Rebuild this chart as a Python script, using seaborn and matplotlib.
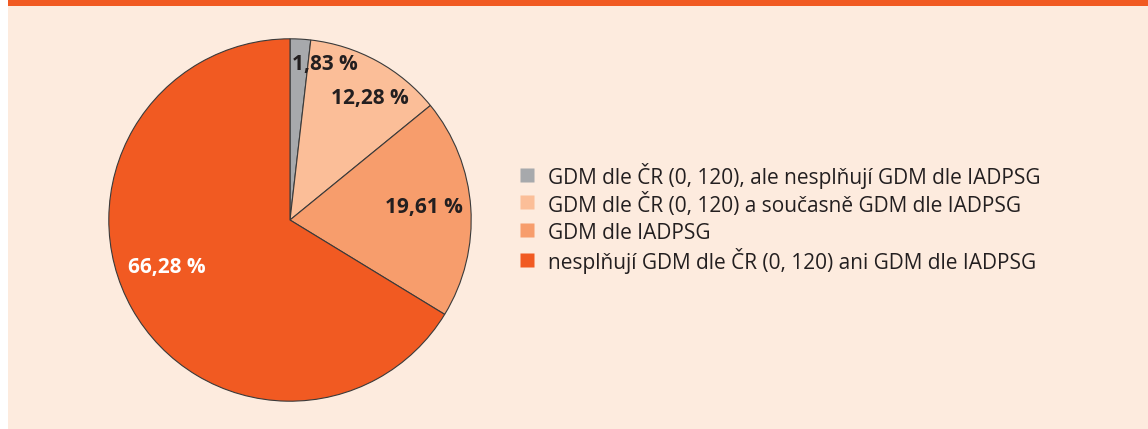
import matplotlib.pyplot as plt
import matplotlib.patches as mpatches
from matplotlib.lines import Line2D
import seaborn as sns
import numpy as np

sns.set_style("white")
plt.rcParams['font.family'] = ['Open Sans', 'DejaVu Sans']

# data
categories = ["GDM dle ČR (0, 120), ale nesplňují GDM dle IADPSG",
              "GDM dle ČR (0, 120) a současně GDM dle IADPSG",
              "GDM dle IADPSG",
              "nesplňují GDM dle ČR (0, 120) ani GDM dle IADPSG"]
values = [1.83, 12.28, 19.61, 66.28]
colors = ["#A7A9AC", "#FBBE98", "#F79D6C", "#F15A22"]
label_colors = ["#231F20", "#231F20", "#231F20", "white"]

palette = sns.color_palette(colors)

fig = plt.figure(figsize=(11.48, 4.29), dpi=100)
fig.patch.set_facecolor("white")
# background panel and top band
fig.patches.append(mpatches.Rectangle((8/1148, 0), 1, (429-6)/429, transform=fig.transFigure,
                                      facecolor="#FDEBDE", edgecolor="none", zorder=-5))
fig.patches.append(mpatches.Rectangle((8/1148, (429-6)/429), 1, 6/429, transform=fig.transFigure,
                                      facecolor="#F15A22", edgecolor="none", zorder=-5))

ax = fig.add_axes([107/1148, 26/429, 366/1148, 366/429])
ax.set_facecolor("none")
wedges, texts, autotexts = ax.pie(values, colors=palette, startangle=90, counterclock=False,
                                  radius=1, autopct=lambda p: "", pctdistance=0.75,
                                  wedgeprops=dict(edgecolor="#3a3a3a", linewidth=0.8))
ax.set_xlim(-1.01, 1.01)
ax.set_ylim(-1.01, 1.01)
ax.set_aspect("equal")
ax.axis("off")

# label positions (radius, angle)
label_pos = [(0.88, 77.4), (0.80, 56.7), (0.74, 5.5), (0.73, 201)]
for t, v, c, (r, a) in zip(autotexts, values, label_colors, label_pos):
    t.set_text(f"{v:.2f} %".replace(".", ","))
    t.set_position((r*np.cos(np.radians(a)), r*np.sin(np.radians(a))))
    t.set_color(c)
    t.set_fontsize(15)
    t.set_fontweight("bold")

handles = [Line2D([], [], marker="s", linestyle="none", markersize=9.4,
                  markerfacecolor=c, markeredgecolor="none") for c in colors]
leg = fig.legend(handles, categories, loc="center left", bbox_to_anchor=(517/1148, (429-218.5)/429),
                 frameon=False, fontsize=15, handlelength=1.0, handleheight=1.37,
                 handletextpad=0.49, labelspacing=0.18, borderaxespad=0, borderpad=0)
for t in leg.get_texts():
    t.set_color("#231F20")

fig.savefig("out.png", dpi=100, facecolor=fig.get_facecolor())
